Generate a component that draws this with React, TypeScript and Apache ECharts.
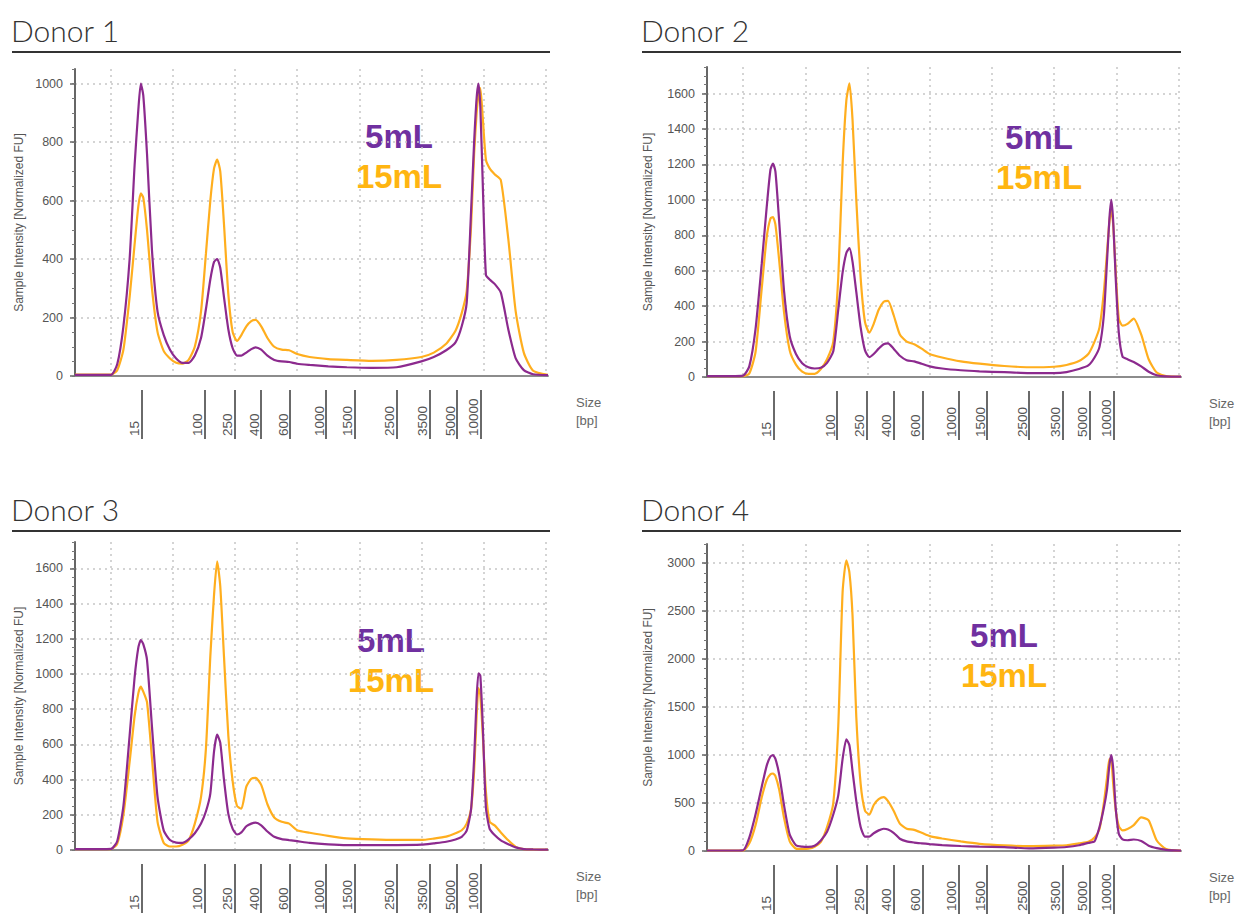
import React, { useEffect, useRef } from 'react';
import * as echarts from 'echarts';

// Migration time (arbitrary units) of every sample point, shared by all traces
const TIME = [
  14.2, 18, 20, 21, 22, 23, 23.8, 24.4, 24.8, 25.2,
  25.8, 26.6, 27.5, 28.5, 29.5, 30.5, 31.5, 32.5, 33.5, 34.5,
  35.3, 36, 36.6, 37.1, 37.6, 38.2, 38.9, 39.6, 40.3, 41,
  41.8, 42.6, 43.3, 44.2, 45.2, 46.3, 47.5, 48.7, 50, 52,
  55, 58, 62, 66, 70, 72, 74, 75.5, 76.5, 77.3,
  78, 78.5, 78.9, 79.2, 79.5, 79.9, 80.4, 81, 81.8, 82.8,
  84, 85.2, 86.5, 88, 90.4,
];

// Ladder (size marker) positions and their bp labels
const LADDER_TIME = [24.9, 35.1, 39.9, 44.2, 48.85, 54.65, 59.25, 66.0, 71.35, 75.75, 79.6];
const LADDER_LABELS = ['15', '100', '250', '400', '600', '1000', '1500', '2500', '3500', '5000', '10000'];

const DONOR_TITLES = ['Donor 1', 'Donor 2', 'Donor 3', 'Donor 4'];
const Y_MAX = [1050, 1750, 1750, 3200];
const Y_STEP = [200, 200, 200, 500];
const Y_MINOR = [50, 50, 50, 100];
const LEGEND_5 = '5mL';
const LEGEND_15 = '15mL';
const X_NAME = 'Size\n[bp]';
const Y_NAME = 'Sample Intensity [Normalized FU]';

const D1_5ML = [
  4, 4, 4, 40, 170, 400, 720, 910, 1000, 960,
  760, 430, 220, 140, 90, 60, 45, 45, 70, 130,
  230, 330, 390, 400, 370, 270, 160, 95, 70, 70,
  80, 92, 98, 90, 70, 55, 50, 48, 42, 38,
  33, 30, 28, 30, 50, 65, 88, 115, 170, 250,
  560, 800, 950, 1000, 920, 650, 345, 330, 315, 285,
  160, 60, 20, 6, 3,
];
const D1_15ML = [
  5, 5, 5, 20, 90, 270, 450, 580, 625, 610,
  500, 300, 150, 85, 60, 45, 42, 55, 100, 220,
  420, 600, 710, 740, 700, 520, 280, 150, 120, 140,
  170, 188, 192, 170, 130, 100, 90, 88, 75, 65,
  58, 55, 52, 55, 65, 80, 110, 155, 215, 290,
  510, 760, 900, 960, 985, 880, 740, 710, 690, 670,
  470, 220, 80, 18, 4,
];
const D2_5ML = [
  5, 5, 8, 60, 270, 640, 960, 1170, 1205, 1160,
  880, 480, 230, 130, 78, 55, 48, 52, 80, 145,
  380, 590, 700, 727, 650, 480, 280, 150, 112, 130,
  160, 185, 190, 160, 120, 95, 88, 75, 60, 48,
  38, 32, 27, 22, 22, 28, 45, 65, 110, 170,
  350, 650, 900, 1000, 880, 560, 250, 115, 100, 85,
  60, 30, 10, 3, 2,
];
const D2_15ML = [
  5, 5, 5, 20, 140, 500, 790, 895, 903, 860,
  660, 360, 150, 70, 30, 18, 18, 45, 100, 200,
  560, 1200, 1560, 1658, 1450, 1000, 560, 310, 250, 300,
  380, 425, 430, 350, 240, 200, 185, 160, 130, 110,
  88, 75, 62, 55, 58, 68, 90, 130, 200, 280,
  480, 700, 880, 940, 860, 600, 330, 290, 300, 330,
  240, 100, 25, 5, 2,
];
const D3_5ML = [
  5, 5, 6, 50, 250, 650, 980, 1150, 1193, 1170,
  1080, 700, 300, 110, 57, 42, 40, 60, 95, 150,
  220, 320, 560, 655, 610, 400, 205, 120, 88, 100,
  135, 150, 155, 140, 105, 75, 62, 56, 50, 40,
  32, 28, 28, 28, 30, 38, 47, 60, 75, 110,
  230, 520, 860, 1004, 990, 700, 240, 120, 85, 55,
  33, 15, 5, 3, 2,
];
const D3_15ML = [
  5, 5, 5, 35, 200, 500, 760, 890, 928, 900,
  840, 520, 160, 40, 20, 20, 30, 55, 150, 300,
  580, 1100, 1450, 1640, 1500, 1100, 650, 390, 250, 235,
  360, 405, 410, 370, 260, 185, 160, 150, 112, 98,
  80, 66, 60, 57, 57, 65, 76, 95, 112, 150,
  230, 450, 760, 920, 880, 650, 330, 160, 140, 100,
  55, 18, 5, 3, 2,
];
const D4_5ML = [
  5, 5, 8, 140, 380, 670, 890, 985, 999, 960,
  800, 470, 170, 60, 45, 42, 55, 110, 200, 380,
  580, 960, 1165, 1100, 830, 520, 250, 150, 150, 185,
  215, 232, 225, 190, 128, 100, 88, 80, 72, 62,
  52, 45, 40, 28, 35, 42, 60, 85, 100, 250,
  450, 640, 900, 999, 860, 450, 180, 120, 112, 120,
  105, 55, 30, 12, 3,
];
const D4_15ML = [
  5, 5, 5, 80, 270, 560, 740, 800, 808, 780,
  640, 340, 100, 25, 22, 25, 45, 95, 250, 500,
  1300, 2700, 3030, 2900, 2450, 1400, 700, 420, 380, 480,
  540, 562, 520, 420, 285, 232, 220, 190, 155, 130,
  100, 75, 58, 50, 55, 60, 80, 95, 140, 230,
  500, 760, 960, 950, 700, 430, 260, 215, 230, 270,
  350, 320, 110, 20, 3,
];

const SERIES_5ML = [D1_5ML, D2_5ML, D3_5ML, D4_5ML];
const SERIES_15ML = [D1_15ML, D2_15ML, D3_15ML, D4_15ML];

// Layout (pixels)
const PANELS = [
  { left: 75, top: 69, width: 473, height: 307, titleX: 11, lineY: 52, lineX2: 550, nameGap: 50, legendX: 399, legendY: 136 },
  { left: 707, top: 67, width: 474, height: 310, titleX: 641, lineY: 52, lineX2: 1181, nameGap: 53, legendX: 1039, legendY: 137 },
  { left: 75, top: 542, width: 473, height: 308, titleX: 11, lineY: 531, lineX2: 550, nameGap: 50, legendX: 391, legendY: 640 },
  { left: 707, top: 544, width: 474, height: 307, titleX: 641, lineY: 531, lineX2: 1181, nameGap: 53, legendX: 1004, legendY: 635 },
];

const X_MIN = TIME[0];
const X_MAX = TIME[TIME.length - 1];
const PURPLE_LINE = '#8C2A8E';
const ORANGE_LINE = '#FFAE1E';
const PURPLE_TEXT = '#7030A0';
const ORANGE_TEXT = '#FFB511';
const AXIS_FONT = 'Liberation Sans, Arial, sans-serif';

function ladderLabel(v: number): string {
  const i = LADDER_TIME.findIndex((t) => Math.abs(t - v) < 1e-6);
  return i >= 0 ? LADDER_LABELS[i] : '';
}

function buildOption() {
  const grid: any[] = [];
  const xAxis: any[] = [];
  const yAxis: any[] = [];
  const series: any[] = [];
  const graphic: any[] = [];

  PANELS.forEach((p, k) => {
    grid.push({ left: p.left, top: p.top, width: p.width, height: p.height, containLabel: false });

    // main x axis: line + dotted vertical grid
    xAxis.push({
      type: 'value', gridIndex: k, min: X_MIN, max: X_MAX, minInterval: 10, maxInterval: 10,
      position: 'bottom',
      axisLine: { show: true, onZero: false, lineStyle: { color: '#8c8c8c', width: 2 } },
      axisTick: { show: false }, axisLabel: { show: false },
      splitLine: { show: true, showMinLine: false, showMaxLine: false, lineStyle: { type: [2, 4], color: '#c6c6c6', width: 1.5 } },
    });
    // ladder axis
    xAxis.push({
      type: 'value', gridIndex: k, min: X_MIN, max: X_MAX, position: 'bottom', offset: 14,
      axisLine: { show: false, onZero: false },
      axisTick: { show: true, customValues: LADDER_TIME, length: 49, lineStyle: { color: '#6a6a6a', width: 2 } },
      axisLabel: {
        show: true, customValues: LADDER_TIME, formatter: ladderLabel, rotate: 90,
        align: 'left', verticalAlign: 'bottom', margin: 46,
        fontSize: 13.5, color: '#555', fontFamily: AXIS_FONT,
      },
      splitLine: { show: false },
      name: X_NAME, nameLocation: 'end', nameGap: 28,
      nameTextStyle: { align: 'left', verticalAlign: 'top', lineHeight: 18, fontSize: 13, color: '#666', fontFamily: AXIS_FONT, padding: [3, 0, 0, 0] },
    });

    yAxis.push({
      type: 'value', gridIndex: k, min: 0, max: Y_MAX[k], interval: Y_STEP[k], position: 'left',
      axisLine: { show: true, lineStyle: { color: '#666', width: 2 } },
      axisTick: { show: true, length: 5, lineStyle: { color: '#666', width: 1.5 } },
      axisLabel: {
        show: true, margin: 12, fontSize: 12.5, color: '#555', fontFamily: AXIS_FONT, showMaxLabel: false,
        formatter: (v: number) => String(v),
      },
      splitLine: { show: true, showMinLine: false, showMaxLine: false, lineStyle: { type: [2, 4], color: '#c6c6c6', width: 1.5 } },
      name: Y_NAME, nameLocation: 'middle', nameGap: p.nameGap,
      nameTextStyle: { fontSize: 12, color: '#555', fontFamily: AXIS_FONT },
    });
    yAxis.push({
      type: 'value', gridIndex: k, min: 0, max: Y_MAX[k], interval: Y_MINOR[k], position: 'left',
      axisLine: { show: false },
      axisTick: { show: true, length: 3, lineStyle: { color: '#777', width: 1 } },
      axisLabel: { show: false }, splitLine: { show: false },
    });

    series.push({
      type: 'line', name: LEGEND_15, xAxisIndex: 2 * k, yAxisIndex: 2 * k,
      data: TIME.map((t, i) => [t, SERIES_15ML[k][i]]),
      smooth: 0.2,
      showSymbol: false, symbol: 'none', lineStyle: { color: ORANGE_LINE, width: 2.2 }, itemStyle: { color: ORANGE_LINE }, z: 3,
    });
    series.push({
      type: 'line', name: LEGEND_5, xAxisIndex: 2 * k, yAxisIndex: 2 * k,
      data: TIME.map((t, i) => [t, SERIES_5ML[k][i]]),
      smooth: 0.2,
      showSymbol: false, symbol: 'none', lineStyle: { color: PURPLE_LINE, width: 2.2 }, itemStyle: { color: PURPLE_LINE }, z: 4,
    });

    graphic.push({
      type: 'text', x: p.titleX, y: p.lineY - 22,
      style: { text: DONOR_TITLES[k], fontSize: 30, fontWeight: 300, fontFamily: 'Lato, sans-serif', fill: '#333', align: 'left', verticalAlign: 'middle' },
    });
    graphic.push({
      type: 'line', shape: { x1: p.titleX + 1, y1: p.lineY, x2: p.lineX2, y2: p.lineY },
      style: { stroke: '#333', lineWidth: 2 },
    });
    graphic.push({
      type: 'text', x: p.legendX, y: p.legendY,
      style: { text: LEGEND_5, fontSize: 33, fontWeight: 'bold', fontFamily: AXIS_FONT, fill: PURPLE_TEXT, align: 'center', verticalAlign: 'middle' },
    });
    graphic.push({
      type: 'text', x: p.legendX, y: p.legendY + 40,
      style: { text: LEGEND_15, fontSize: 33, fontWeight: 'bold', fontFamily: AXIS_FONT, fill: ORANGE_TEXT, align: 'center', verticalAlign: 'middle' },
    });
  });

  return { animation: false, backgroundColor: '#fff', grid, xAxis, yAxis, series, graphic };
}

export default function App() {
  const ref = useRef<HTMLDivElement>(null);
  useEffect(() => {
    if (!ref.current) return;
    const chart = echarts.init(ref.current, undefined, { renderer: 'svg' });
    chart.setOption(buildOption());
    return () => chart.dispose();
  }, []);
  return (
    <div
      ref={ref}
      style={{ position: 'fixed', left: 0, top: 0, width: 1250, height: 921, background: '#fff' }}
    />
  );
}
